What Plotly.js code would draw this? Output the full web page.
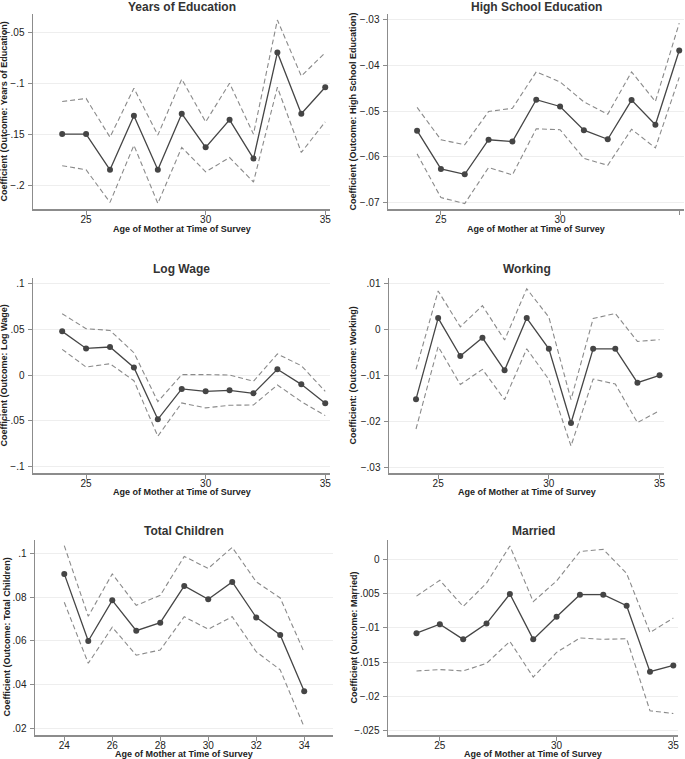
<!DOCTYPE html>
<html>
<head>
<meta charset="utf-8">
<script src="https://cdn.plot.ly/plotly-3.0.1.min.js"></script>
<style>
  body { margin: 0; background: #fff; }
  #chart { width: 685px; height: 759px; }
</style>
</head>
<body>
<div id="chart"></div>
<script>
// Ages
const ages = [24, 25, 26, 27, 28, 29, 30, 31, 32, 33, 34, 35];
const agesKids = [24, 25, 26, 27, 28, 29, 30, 31, 32, 33, 34];

// Years of Education
const eduCoef  = [-0.150, -0.150, -0.185, -0.132, -0.185, -0.130, -0.163, -0.136, -0.174, -0.070, -0.130, -0.104];
const eduUpper = [-0.118, -0.115, -0.153, -0.105, -0.151, -0.096, -0.138, -0.100, -0.150, -0.038, -0.093, -0.070];
const eduLower = [-0.181, -0.185, -0.217, -0.161, -0.218, -0.163, -0.187, -0.173, -0.197, -0.104, -0.168, -0.138];

// High School Education
const hsCoef  = [-0.0543, -0.0627, -0.0639, -0.0563, -0.0567, -0.0475, -0.0490, -0.0542, -0.0562, -0.0476, -0.0530, -0.0367];
const hsUpper = [-0.0492, -0.0563, -0.0574, -0.0501, -0.0494, -0.0414, -0.0436, -0.0480, -0.0507, -0.0414, -0.0479, -0.0307];
const hsLower = [-0.0594, -0.0690, -0.0703, -0.0624, -0.0640, -0.0539, -0.0541, -0.0604, -0.0619, -0.0540, -0.0581, -0.0426];

// Log Wage
const wageCoef  = [0.0476, 0.0290, 0.0305, 0.0083, -0.0483, -0.0152, -0.0178, -0.0167, -0.0200, 0.0062, -0.0102, -0.0309];
const wageUpper = [0.0668, 0.0505, 0.0486, 0.0243, -0.0290, 0.0004, 0.0004, 0.0000, -0.0069, 0.0229, 0.0102, -0.0178];
const wageLower = [0.0280, 0.0087, 0.0123, -0.0062, -0.0668, -0.0305, -0.0359, -0.0330, -0.0327, -0.0109, -0.0290, -0.0443];

// Working
const workCoef  = [-0.0152, 0.0025, -0.0058, -0.0018, -0.0089, 0.0025, -0.0042, -0.0204, -0.0042, -0.0042, -0.0116, -0.0100];
const workUpper = [-0.0087, 0.0084, 0.0006, 0.0052, -0.0023, 0.0089, 0.0027, -0.0153, 0.0024, 0.0035, -0.0026, -0.0022];
const workLower = [-0.0217, -0.0037, -0.0120, -0.0087, -0.0153, -0.0042, -0.0109, -0.0254, -0.0108, -0.0119, -0.0203, -0.0177];

// Total Children
const kidsCoef  = [0.0906, 0.0599, 0.0785, 0.0646, 0.0683, 0.0851, 0.0790, 0.0869, 0.0707, 0.0627, 0.0369];
const kidsUpper = [0.1035, 0.0712, 0.0906, 0.0762, 0.0808, 0.0986, 0.0931, 0.1027, 0.0870, 0.0796, 0.0547];
const kidsLower = [0.0776, 0.0497, 0.0662, 0.0534, 0.0558, 0.0710, 0.0653, 0.0710, 0.0550, 0.0467, 0.0205];

// Married
const marCoef  = [-0.0108, -0.0095, -0.0117, -0.0094, -0.0051, -0.0117, -0.0084, -0.0052, -0.0052, -0.0068, -0.0164, -0.0155];
const marUpper = [-0.0054, -0.0031, -0.0069, -0.0035, 0.0019, -0.0062, -0.0032, 0.0011, 0.0014, -0.0021, -0.0107, -0.0086];
const marLower = [-0.0163, -0.0161, -0.0163, -0.0152, -0.0120, -0.0172, -0.0136, -0.0115, -0.0117, -0.0116, -0.0221, -0.0225];

// Tick labels (Stata style, leading zero dropped)
const xTicks = [25, 30, 35];
const xTicksKids = [24, 26, 28, 30, 32, 34];
const eduTicks = [-0.05, -0.1, -0.15, -0.2];
const eduLabels = ["\u2212.05", "\u2212.1", "\u2212.15", "\u2212.2"];
const hsTicks = [-0.03, -0.04, -0.05, -0.06, -0.07];
const hsLabels = ["\u2212.03", "\u2212.04", "\u2212.05", "\u2212.06", "\u2212.07"];
const wageTicks = [0.1, 0.05, 0, -0.05, -0.1];
const wageLabels = [".1", ".05", "0", "\u2212.05", "\u2212.1"];
const workTicks = [0.01, 0, -0.01, -0.02, -0.03];
const workLabels = [".01", "0", "\u2212.01", "\u2212.02", "\u2212.03"];
const kidsTicks = [0.1, 0.08, 0.06, 0.04, 0.02];
const kidsLabels = [".1", ".08", ".06", ".04", ".02"];
const marTicks = [0, -0.005, -0.01, -0.015, -0.02, -0.025];
const marLabels = ["0", "\u2212.005", "\u2212.01", "\u2212.015", "\u2212.02", "\u2212.025"];

const W = 685, H = 759;
const FONT = "Liberation Sans, Arial, Helvetica, sans-serif";

// panel boxes in pixels: left, right, top, bottom
const panels = [
  {title: "Years of Education", ytitle: "Coefficient (Outcome: Years of Education)",
   x: ages, c: eduCoef, u: eduUpper, l: eduLower, xt: xTicks,
   yt: eduTicks, yl: eduLabels, yr: [-0.2235, -0.0321],
   box: [33, 330, 14, 209], ytx: 4, tty: 7, xty: 229},
  {title: "High School Education", ytitle: "Coefficient (Outcome: High School Education)",
   x: ages, c: hsCoef, u: hsUpper, l: hsLower, xt: xTicks,
   yt: hsTicks, yl: hsLabels, yr: [-0.0715, -0.0287],
   box: [388, 684, 14, 209], ytx: 353, tty: 7, xty: 229},
  {title: "Log Wage", ytitle: "Coefficient (Outcome: Log Wage)",
   x: ages, c: wageCoef, u: wageUpper, l: wageLower, xt: xTicks,
   yt: wageTicks, yl: wageLabels, yr: [-0.1069, 0.1058],
   box: [33, 330, 278, 473], ytx: 4, tty: 269, xty: 492},
  {title: "Working", ytitle: "Coefficient: (Outcome: Working)",
   x: ages, c: workCoef, u: workUpper, l: workLower, xt: xTicks,
   yt: workTicks, yl: workLabels, yr: [-0.0313, 0.01124],
   box: [389, 664, 278, 473], ytx: 353, tty: 269, xty: 492},
  {title: "Total Children", ytitle: "Coefficient (Outcome: Total Children)",
   x: agesKids, c: kidsCoef, u: kidsUpper, l: kidsLower, xt: xTicksKids,
   yt: kidsTicks, yl: kidsLabels, yr: [0.0169, 0.1061],
   box: [35, 333, 540, 735], ytx: 6, tty: 531, xty: 753.5},
  {title: "Married", ytitle: "Coefficient (Outcome: Married)",
   x: ages, c: marCoef, u: marUpper, l: marLower, xt: xTicks,
   yt: marTicks, yl: marLabels, yr: [-0.02563, 0.00277],
   box: [388, 678, 540, 735], ytx: 353, tty: 531, xty: 753.5}
];

const data = [];
const layout = {
  width: W, height: H,
  margin: {l: 0, r: 0, t: 0, b: 0},
  paper_bgcolor: "#ffffff",
  plot_bgcolor: "#ffffff",
  showlegend: false,
  font: {family: FONT, size: 10, color: "#222"},
  annotations: []
};

panels.forEach((p, i) => {
  const n = i + 1;
  const xa = "x" + (n === 1 ? "" : n);
  const ya = "y" + (n === 1 ? "" : n);
  const [L, R, T, B] = p.box;

  const dash = {color: "#8a8a8a", width: 1.1, dash: "5px,3px"};
  data.push({x: p.x, y: p.u, xaxis: xa, yaxis: ya, mode: "lines", line: dash, hoverinfo: "skip"});
  data.push({x: p.x, y: p.l, xaxis: xa, yaxis: ya, mode: "lines", line: dash, hoverinfo: "skip"});
  data.push({x: p.x, y: p.c, xaxis: xa, yaxis: ya, mode: "lines+markers",
             line: {color: "#454545", width: 1.3},
             marker: {color: "#454545", size: 6, symbol: "circle"}});

  const axBase = {
    showline: true, linecolor: "#8c8c8c", linewidth: 1.5,
    ticks: "outside", ticklen: 4, tickwidth: 1, tickcolor: "#8c8c8c",
    zeroline: false, tickfont: {size: 10, color: "#222"}
  };
  layout["xaxis" + (n === 1 ? "" : n)] = Object.assign({}, axBase, {
    domain: [L / W, R / W], anchor: ya, range: [22.78, 35.2],
    tickmode: "array", tickvals: p.xt, showgrid: false, ticklabelstandoff: -4
  });
  layout["yaxis" + (n === 1 ? "" : n)] = Object.assign({}, axBase, {
    domain: [1 - B / H, 1 - T / H], anchor: xa, range: p.yr,
    tickmode: "array", tickvals: p.yt, ticktext: p.yl,
    showgrid: true, gridcolor: "#eeeeee", gridwidth: 1, ticklabelstandoff: 1
  });

  // panel title
  layout.annotations.push({
    text: "<b>" + p.title + "</b>", xref: "paper", yref: "paper",
    x: (L + R) / 2 / W, y: 1 - p.tty / H, xanchor: "center", yanchor: "middle",
    showarrow: false, font: {size: 12, color: "#333"}
  });
  // x axis title
  layout.annotations.push({
    text: "<b>Age of Mother at Time of Survey</b>", xref: "paper", yref: "paper",
    x: (L + R) / 2 / W, y: 1 - p.xty / H, xanchor: "center", yanchor: "middle",
    showarrow: false, font: {size: 9, color: "#222"}
  });
  // y axis title
  layout.annotations.push({
    text: "<b>" + p.ytitle + "</b>", xref: "paper", yref: "paper",
    x: p.ytx / W, y: 1 - (T + B) / 2 / H, xanchor: "center", yanchor: "middle",
    textangle: -90, showarrow: false, font: {size: 9, color: "#222"}
  });
});

Plotly.newPlot("chart", data, layout, {displayModeBar: false, staticPlot: true});
</script>
</body>
</html>
